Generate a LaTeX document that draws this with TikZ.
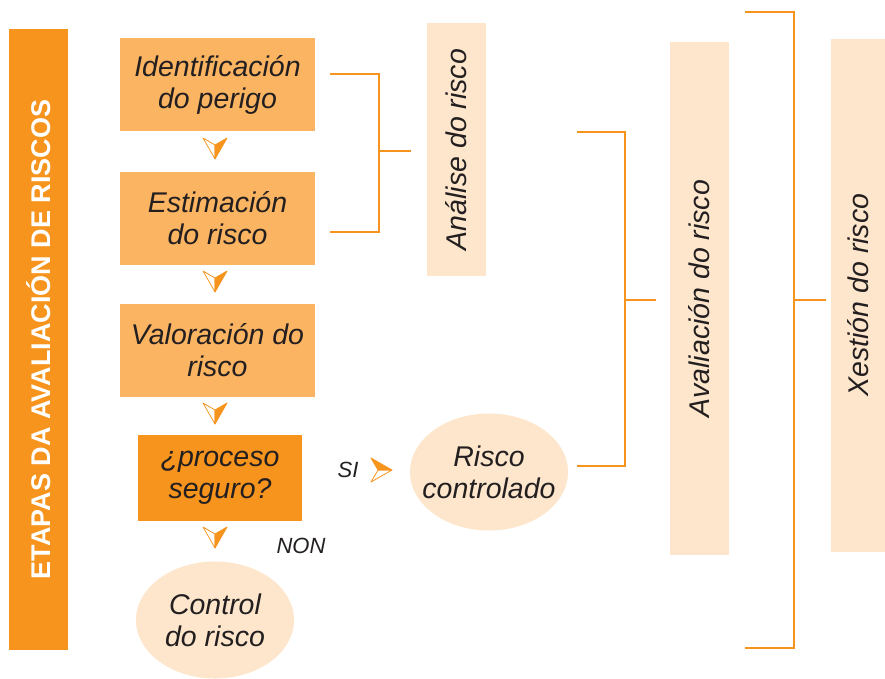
\documentclass[tikz,border=0pt]{standalone}
\usepackage{fontspec}
\setmainfont{Liberation Sans}
\usetikzlibrary{shapes.geometric}
\definecolor{laranxa}{HTML}{F7941D}
\definecolor{laranxaclara}{HTML}{FBB462}
\definecolor{pexego}{HTML}{FDE6CB}
\definecolor{texto}{HTML}{231F20}
\newcommand{\letra}[1]{\fontsize{#1}{32}\selectfont\itshape}
\tikzset{
  caixa/.style={rectangle, fill=laranxaclara, inner sep=0pt, minimum width=195pt,
    minimum height=93pt, text=texto, align=center, font=\letra{28.5}},
  faixa/.style={rectangle, fill=pexego, inner sep=0pt, rotate=90, text=texto,
    font=\letra{28.5}},
  elipse/.style={ellipse, fill=pexego, inner sep=-18pt, minimum width=158pt,
    minimum height=117pt, text=texto, align=center, font=\letra{28.5}},
  resposta/.style={text=texto, inner sep=0pt, font=\letra{22}},
  chave/.style={draw=laranxa, line width=2.2pt},
  frecha/.pic={
    \filldraw[draw=laranxa, fill=white, line width=0.8pt, line join=round]
      (0,11) -- (-12,-10) -- (0,-3) -- cycle;
    \filldraw[draw=laranxa, fill=laranxa, line width=0.8pt, line join=round]
      (0,11) -- (0,-3) -- (12,-10) -- cycle;
  }
}
\begin{document}
\begin{tikzpicture}[x=1pt, y=-1pt]
  \useasboundingbox (0,0) rectangle (885,678);

  % barra das etapas
  \node[rectangle, fill=laranxa, inner sep=0pt, rotate=90, minimum width=621pt,
    minimum height=59pt, text=white, font=\fontsize{27}{30}\selectfont\bfseries]
    (etapas) at (38.5,339.5) {ETAPAS DA AVALIACIÓN DE RISCOS};

  % pasos
  \node[caixa] (ident) at (217.5,84.5) {Identificación\\do perigo};
  \node[caixa] (estim) at (217.5,218.5) {Estimación\\do risco};
  \node[caixa] (valor) at (217.5,350.5) {Valoración do\\risco};
  \node[caixa, fill=laranxa, minimum width=164pt, minimum height=86pt]
    (seguro) at (220,478) {¿proceso\\seguro?};
  \node[elipse] (control) at (215,620) {Control\\do risco};
  \node[elipse] (controlado) at (489,472) {Risco\\controlado};

  \pic at (215,148) {frecha};
  \pic at (215,281) {frecha};
  \pic at (215,413) {frecha};
  \pic at (215,537) {frecha};
  \pic[rotate=90] at (381,470) {frecha};

  \node[resposta] (si) at (348,470) {SI};
  \node[resposta] (non) at (301,546) {NON};

  % faixas
  \node[faixa, minimum width=253pt, minimum height=59pt] (analise) at (456.5,149.5) {Análise do risco};
  \node[faixa, minimum width=513pt, minimum height=59pt] (avalia) at (699,298.5) {Avaliación do risco};
  \node[faixa, minimum width=513pt, minimum height=54pt] (xestion) at (858,295) {Xestión do risco};

  % chaves
  \coordinate (a1) at (330,74);
  \coordinate (a2) at (330,232);
  \coordinate (am) at (379,151);
  \draw[chave] (a1) -| (am) |- (a2);
  \draw[chave, shorten >=16pt] (am) -- (am -| analise.north);

  \coordinate (b1) at (577,132);
  \coordinate (b2) at (577,466);
  \coordinate (bm) at (625,300);
  \draw[chave] (b1) -| (bm) |- (b2);
  \draw[chave, shorten >=13pt] (bm) -- (bm -| avalia.north);

  \coordinate (c1) at (745,12);
  \coordinate (c2) at (745,648);
  \coordinate (cm) at (794,300);
  \draw[chave] (c1) -| (cm) |- (c2);
  \draw[chave, shorten >=5pt] (cm) -- (cm -| xestion.north);
\end{tikzpicture}
\end{document}
